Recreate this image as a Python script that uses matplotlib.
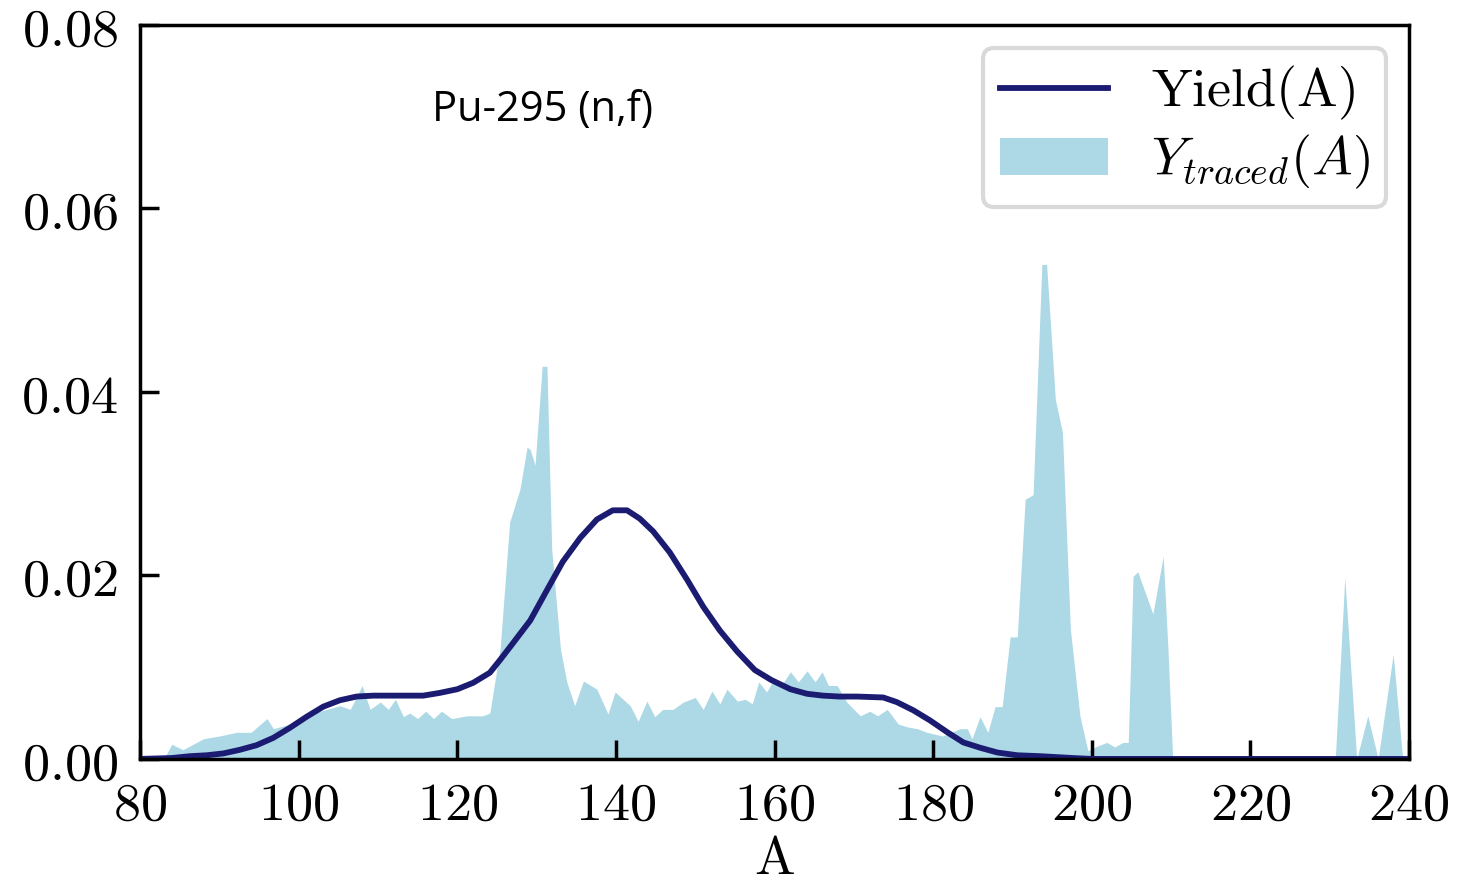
import numpy as np
import matplotlib
matplotlib.use('Agg')
import matplotlib.pyplot as plt
from matplotlib.ticker import FuncFormatter

# traced yield (filled area)
A_traced = [80, 83, 84, 85.4, 88, 90, 92.2, 94, 96, 96.8, 99.8, 102.3, 105.2, 106.5, 108, 109,
            110.3, 111.3, 112.2, 113.2, 114, 115, 116, 117, 118, 119.3, 121.2, 123.2, 124.1,
            125.4, 126.6, 127.9, 128.8, 129.2, 129.8, 130.7, 131.3, 131.9, 133, 133.8, 134.8,
            135.9, 137.6, 139, 139.9, 141.8, 142.8, 143.9, 144.9, 145.9, 147.2, 148.5, 150,
            151, 152.1, 153.1, 154, 155.3, 156.3, 157.2, 158, 159, 159.8, 161, 162, 163, 164.1,
            165.1, 166, 166.8, 167.9, 169.1, 170.8, 172, 173, 174.2, 175.6, 176.7, 178, 179.2,
            181.2, 183.4, 184.3, 184.9, 185.9, 186.9, 187.8, 188.7, 189.7, 190.6, 191.6, 192.6,
            193.7, 194.3, 195.4, 196.3, 197.3, 198.5, 199.5, 200.7, 201.9, 202.9, 203.9, 204.6,
            205.2, 205.8, 207.7, 209, 209.6, 210.2, 230.7, 231.9, 233.4, 234.8, 236.1, 238,
            239.2, 240]
Y_traced = [0, 0, 0.0016, 0.001, 0.0022, 0.0025, 0.0029, 0.0029, 0.0044, 0.0033, 0.004, 0.0051,
            0.0058, 0.0054, 0.008, 0.0054, 0.0062, 0.0054, 0.0065, 0.0046, 0.005, 0.0044,
            0.0052, 0.0044, 0.0052, 0.0044, 0.0047, 0.0047, 0.005, 0.012, 0.0258, 0.0294,
            0.034, 0.0337, 0.032, 0.0428, 0.0428, 0.0229, 0.012, 0.0084, 0.0058, 0.0085,
            0.0076, 0.0049, 0.0073, 0.0058, 0.0041, 0.0063, 0.0046, 0.0054, 0.0054, 0.0062,
            0.0067, 0.0054, 0.0074, 0.006, 0.0076, 0.0063, 0.0065, 0.006, 0.0084, 0.0073,
            0.0085, 0.0082, 0.0095, 0.0084, 0.0096, 0.0084, 0.0095, 0.008, 0.008, 0.0062,
            0.0047, 0.0052, 0.0047, 0.0054, 0.0038, 0.0035, 0.0033, 0.0029, 0.0025, 0.0033,
            0.0033, 0.0022, 0.0046, 0.0029, 0.0057, 0.0057, 0.0133, 0.0133, 0.0283, 0.0288,
            0.0539, 0.0539, 0.0392, 0.0356, 0.0141, 0.0047, 0.0009, 0.0014, 0.0018, 0.0013,
            0.0018, 0.0018, 0.0199, 0.0204, 0.0158, 0.0221, 0.012, 0, 0, 0.0198, 0, 0.0047,
            0, 0.0114, 0, 0]

# smooth yield curve
A_yield = [80, 84, 86.3, 88.4, 90.5, 92.6, 94.7, 96.8, 98.9, 101, 103.1, 105.2, 107.3, 109.4,
           111.5, 113.6, 115.7, 117.8, 120, 122, 124.1, 125.4, 127, 129.2, 131.3, 133.3, 135.5,
           137.6, 139.6, 141.4, 143, 144.7, 146.8, 149, 151, 153.1, 155.3, 157.5, 159.6, 162,
           164.1, 166.1, 168.2, 170.4, 173.7, 175.4, 177.5, 179.6, 181.8, 183.8, 186, 188.1,
           190.6, 193.5, 197.6, 200, 240]
Y_yield = [0, 0.0001, 0.0003, 0.0004, 0.0006, 0.001, 0.0015, 0.0023, 0.0034, 0.0046, 0.0057,
           0.0064, 0.0068, 0.0069, 0.0069, 0.0069, 0.0069, 0.0072, 0.0076, 0.0083, 0.0094,
           0.0108, 0.0126, 0.0151, 0.0184, 0.0215, 0.0241, 0.0261, 0.0271, 0.0271, 0.0262,
           0.0248, 0.0225, 0.0195, 0.0166, 0.014, 0.0117, 0.0097, 0.0086, 0.0076, 0.0071,
           0.0069, 0.0068, 0.0068, 0.0067, 0.0062, 0.0053, 0.0042, 0.0029, 0.0018, 0.0012,
           0.0007, 0.0004, 0.0003, 0.0001, 0, 0]

plt.rcParams['mathtext.fontset'] = 'cm'
plt.rcParams['font.size'] = 39

fig = plt.figure(figsize=(14.79, 8.89), dpi=100)
ax = fig.add_axes([0.0947, 0.1463, 0.858, 0.8256])

ax.fill_between(A_traced, Y_traced, color='lightblue', lw=0, label=r'$Y_{traced}(A)$')
ax.plot(A_yield, Y_yield, color='#1b1b72', lw=4.2, solid_joinstyle='round',
        label=r'$\mathrm{Yield}(\mathrm{A})$')

ax.set_xlim(80, 240)
ax.set_ylim(0, 0.08)
ax.set_xticks(np.arange(80, 241, 20))
ax.set_yticks(np.arange(0, 0.081, 0.02))
ax.xaxis.set_major_formatter(FuncFormatter(lambda v, p: r'$%d$' % v))
ax.yaxis.set_major_formatter(FuncFormatter(lambda v, p: r'$%.2f$' % v))
ax.tick_params(direction='in', length=14, width=2.5, labelsize=39)
ax.tick_params(axis='y', pad=16)
ax.tick_params(axis='x', pad=14)
for s in ax.spines.values():
    s.set_linewidth(2.5)
ax.set_xlabel(r'$\mathrm{A}$', fontsize=39, labelpad=2)

ax.text(116.8, 0.0707, 'Pu-295 (n,f)', family='Open Sans', fontsize=30, va='center')

h, l = ax.get_legend_handles_labels()
leg = ax.legend(h[::-1], l[::-1], loc='upper right', fontsize=39, frameon=True,
                fancybox=True, borderpad=0.3, handlelength=2.0, labelspacing=0.2,
                handletextpad=0.8, borderaxespad=0.42)
leg.get_frame().set_edgecolor('#d0d0d0')
leg.get_frame().set_linewidth(3)

fig.savefig('out.png', dpi=100)
